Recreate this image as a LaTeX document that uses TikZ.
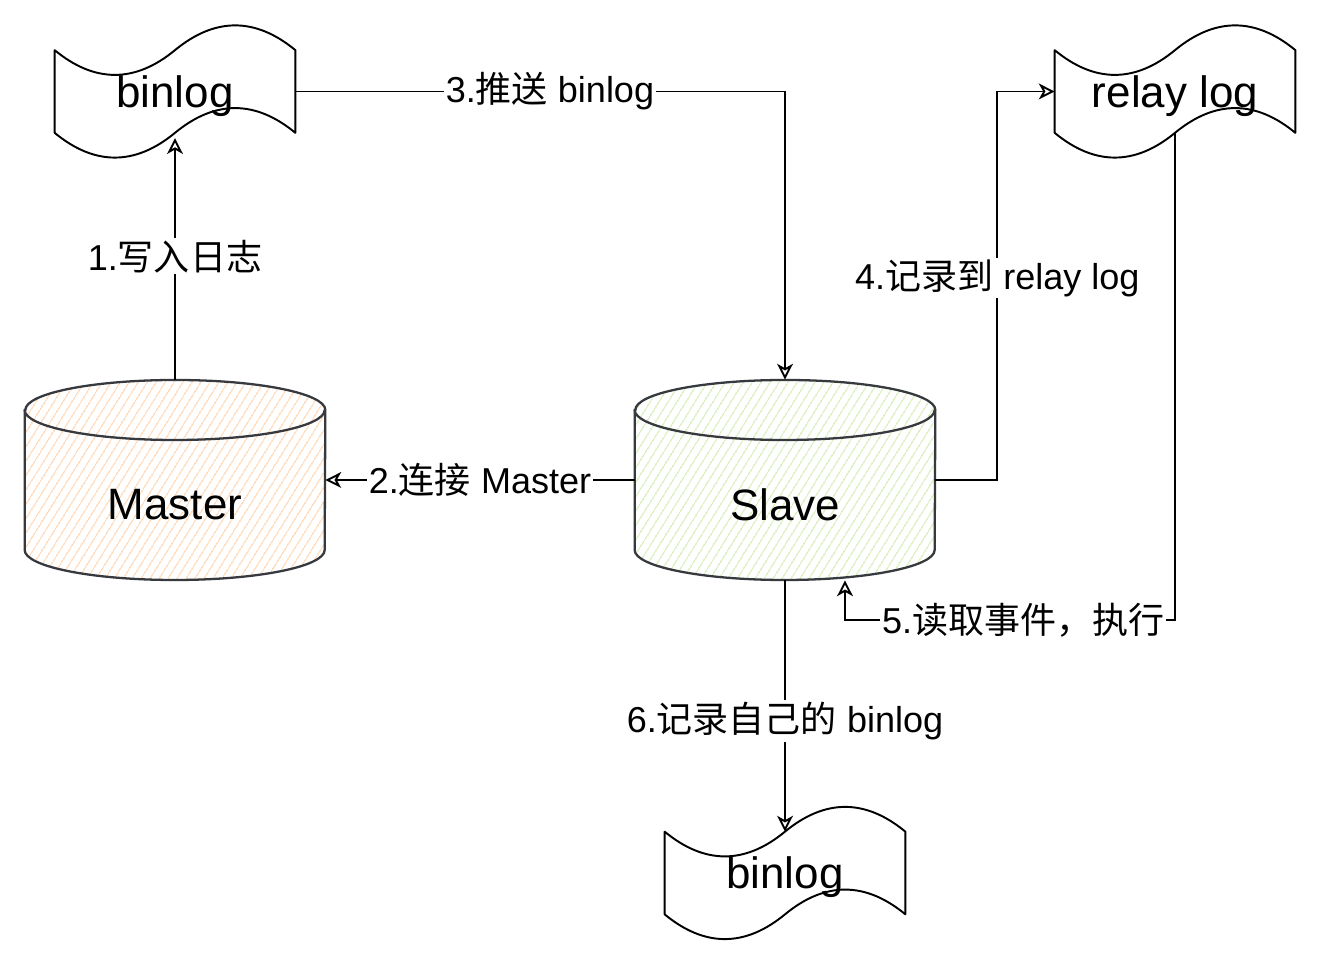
\documentclass[tikz,border=0pt]{standalone}
\usepackage{fontspec}
\setmainfont{Liberation Sans}
\newfontfamily\cjk{Noto Sans CJK SC}
\usepackage{tikz}
\usepackage{xcolor}
\usetikzlibrary{arrows.meta}
\usetikzlibrary{patterns.meta}

\definecolor{masterhatch}{HTML}{FFBE85}
\definecolor{slavehatch}{HTML}{BCE38C}
\definecolor{dbgray}{HTML}{36393D}

\begin{document}
\begin{tikzpicture}[
    link/.style={line width=1.1pt, -{Stealth[open,length=9pt,width=9pt,inset=2.5pt]}},
    lbl/.style={fill=white, inner sep=1pt, font=\fontsize{20.5}{24}\selectfont},
    tapebox/.style={minimum width=4.8cm, minimum height=1.64cm, inner sep=0pt, text depth=0pt, font=\fontsize{25}{29}\selectfont},
    tapeline/.style={line width=1.1pt, line join=round},
    dbbox/.style={minimum width=6cm, minimum height=4cm, inner sep=0pt},
    dbline/.style={draw=dbgray, line width=1.3pt},
    dbtext/.style={font=\fontsize{25}{29}\selectfont},
    hatch/.style={pattern={Lines[angle=58,distance=4pt,line width=0.55pt]}, pattern color=#1},
]

    \useasboundingbox (0,0) rectangle (26.4,19.2);

    \def\dbrx{3cm}
    \def\dbry{0.6cm}

    % log files
    \node[tapebox] (binlog1) at (3.5,17.37) {binlog};
    \node[tapebox] (relay) at (23.5,17.37) {relay log};
    \node[tapebox] (binlog2) at (15.7,1.74) {binlog};

    \draw[tapeline] (binlog1.north west) .. controls +(0.8,-0.66) and +(-0.8,-0.66) .. (binlog1.north)
        .. controls +(0.8,0.66) and +(-0.8,0.66) .. (binlog1.north east) -- (binlog1.south east)
        .. controls +(-0.8,0.66) and +(0.8,0.66) .. (binlog1.south)
        .. controls +(-0.8,-0.66) and +(0.8,-0.66) .. (binlog1.south west) -- cycle;

    \draw[tapeline] (relay.north west) .. controls +(0.8,-0.66) and +(-0.8,-0.66) .. (relay.north)
        .. controls +(0.8,0.66) and +(-0.8,0.66) .. (relay.north east) -- (relay.south east)
        .. controls +(-0.8,0.66) and +(0.8,0.66) .. (relay.south)
        .. controls +(-0.8,-0.66) and +(0.8,-0.66) .. (relay.south west) -- cycle;

    \draw[tapeline] (binlog2.north west) .. controls +(0.8,-0.66) and +(-0.8,-0.66) .. (binlog2.north)
        .. controls +(0.8,0.66) and +(-0.8,0.66) .. (binlog2.north east) -- (binlog2.south east)
        .. controls +(-0.8,0.66) and +(0.8,0.66) .. (binlog2.south)
        .. controls +(-0.8,-0.66) and +(0.8,-0.66) .. (binlog2.south west) -- cycle;

    % databases
    \node[dbbox] (Master) at (3.5,9.6) {};
    \node[dbbox] (Slave) at (15.7,9.6) {};

    \draw[dbline, hatch=masterhatch] ([yshift=1.4cm]Master.west) -- ([yshift=-1.4cm]Master.west)
        arc[start angle=180, end angle=360, x radius=\dbrx, y radius=\dbry]
        -- ([yshift=1.4cm]Master.east)
        arc[start angle=0, end angle=180, x radius=\dbrx, y radius=\dbry] -- cycle;
    \draw[dbline] ([yshift=1.4cm]Master.west) arc[start angle=180, end angle=360, x radius=\dbrx, y radius=\dbry];

    \draw[dbline, hatch=slavehatch] ([yshift=1.4cm]Slave.west) -- ([yshift=-1.4cm]Slave.west)
        arc[start angle=180, end angle=360, x radius=\dbrx, y radius=\dbry]
        -- ([yshift=1.4cm]Slave.east)
        arc[start angle=0, end angle=180, x radius=\dbrx, y radius=\dbry] -- cycle;
    \draw[dbline] ([yshift=1.4cm]Slave.west) arc[start angle=180, end angle=360, x radius=\dbrx, y radius=\dbry];

    \node[dbtext] (mastertext) at ([yshift=-0.5cm]Master.center) {Master};
    \node[dbtext] (slavetext) at ([yshift=-0.5cm]Slave.center) {Slave};

    % replication steps
    \draw[link, shorten >=3pt] (Master.north) -- node[lbl] (lab1) {1.{\cjk 写入日志}} (binlog1.south);
    \draw[link] (Slave.west) -- node[lbl] (lab2) {2.{\cjk 连接} Master} (Master.east);
    \draw[link] (binlog1.east) -| node[lbl, pos=0.26] (lab3) {3.{\cjk 推送} binlog} (Slave.north);
    \draw[link] (Slave.east) -- ++(1.24,0) |- node[lbl, pos=0.26] (lab4) {4.{\cjk 记录到} relay log} (relay.west);
    \draw[link] (relay.south) -- ++(0,-9.75) -| node[lbl, pos=0.23] (lab5) {5.{\cjk 读取事件，执行}} ([xshift=1.2cm]Slave.south);
    \draw[link] (Slave.south) -- node[lbl, pos=0.56] (lab6) {6.{\cjk 记录自己的} binlog} (binlog2.north);

\end{tikzpicture}
\end{document}
